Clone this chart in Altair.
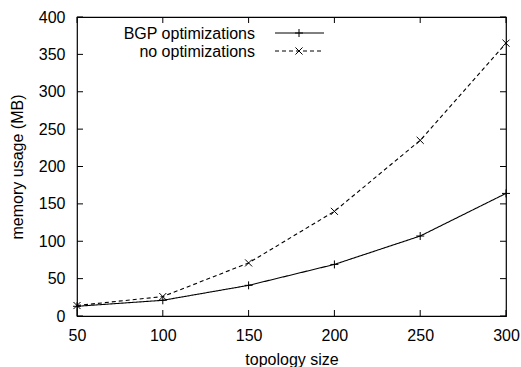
import altair as alt
import pandas as pd

# topology size vs. memory usage (MB)
sizes = [50, 100, 150, 200, 250, 300]
bgp_opt = [13, 21, 41, 69, 107, 164]
no_opt = [14, 26, 71, 140, 235, 365]
series_names = ["BGP optimizations", "no optimizations"]

x_ticks = [50, 100, 150, 200, 250, 300]
y_ticks = [0, 50, 100, 150, 200, 250, 300, 350, 400]

W, H = 429, 299
FONT = "Liberation Sans"
FS = 16
PLUS = "M-1,0L1,0M0,-1L0,1"
CROSS = "M-1,-1L1,1M-1,1L1,-1"

df = pd.DataFrame({
    "size": sizes * 2,
    "mem": bgp_opt + no_opt,
    "series": [series_names[0]] * len(sizes) + [series_names[1]] * len(sizes),
})
xt = pd.DataFrame({"v": x_ticks})
yt = pd.DataFrame({"v": y_ticks})

xs = alt.Scale(domain=[50, 300], nice=False, zero=False)
ys = alt.Scale(domain=[0, 400], nice=False)

axis_common = dict(ticks=False, domain=False, grid=False, labelFontSize=FS,
                   titleFontSize=FS, titleFontWeight="normal", labelColor="black",
                   titleColor="black", labelFont=FONT, titleFont=FONT,
                   labelOverlap=False, labelFlush=False)
x_axis = alt.Axis(values=x_ticks, labelPadding=11, titlePadding=8, **axis_common)
y_axis = alt.Axis(values=y_ticks, labelPadding=12, titlePadding=13, **axis_common)


def xq(field):
    return alt.X(field, scale=xs, axis=x_axis, title="topology size")


def yq(field):
    return alt.Y(field, scale=ys, axis=y_axis, title="memory usage (MB)")


base = alt.Chart(df)

lines = base.mark_line(color="black", strokeWidth=1.1).encode(
    x=xq("size:Q"), y=yq("mem:Q"),
    strokeDash=alt.StrokeDash("series:N", legend=None,
                              scale=alt.Scale(domain=series_names,
                                              range=[[1, 0], [4, 3]])),
)

pts_bgp = base.transform_filter(alt.datum.series == series_names[0]).mark_point(
    shape=PLUS, size=64, color="black", strokeWidth=1, filled=False, opacity=1
).encode(x=xq("size:Q"), y=yq("mem:Q"))

pts_no = base.transform_filter(alt.datum.series == series_names[1]).mark_point(
    shape=CROSS, size=50, color="black", strokeWidth=1, filled=False, opacity=1
).encode(x=xq("size:Q"), y=yq("mem:Q"))

# inward ticks on all four sides
tick_len = 6
xt_bottom = alt.Chart(xt).mark_rule(color="black", strokeWidth=1).encode(
    x=xq("v:Q"), y=alt.value(H), y2=alt.value(H - tick_len))
xt_top = alt.Chart(xt).mark_rule(color="black", strokeWidth=1).encode(
    x=xq("v:Q"), y=alt.value(0), y2=alt.value(tick_len))
yt_left = alt.Chart(yt).mark_rule(color="black", strokeWidth=1).encode(
    y=yq("v:Q"), x=alt.value(0), x2=alt.value(tick_len))
yt_right = alt.Chart(yt).mark_rule(color="black", strokeWidth=1).encode(
    y=yq("v:Q"), x=alt.value(W), x2=alt.value(W - tick_len))

# key, top-left inside the frame
key_layers = []
key_rows = [(series_names[0], 16, [1, 0], PLUS, 64),
            (series_names[1], 34, [4, 3], CROSS, 50)]
for name, ky, dash, shp, sz in key_rows:
    kd = pd.DataFrame({"label": [name]})
    kc = alt.Chart(kd)
    key_layers.append(kc.mark_text(align="right", baseline="alphabetic", fontSize=FS,
                                   font=FONT, color="black").encode(
        text="label:N", x=alt.value(178), y=alt.value(ky + 6)))
    key_layers.append(kc.mark_rule(color="black", strokeWidth=1, strokeDash=dash).encode(
        x=alt.value(198), x2=alt.value(247), y=alt.value(ky)))
    key_layers.append(kc.mark_point(shape=shp, size=sz, color="black", strokeWidth=1,
                                    filled=False, opacity=1).encode(
        x=alt.value(222), y=alt.value(ky)))

chart = alt.layer(
    lines, pts_bgp, pts_no, xt_bottom, xt_top, yt_left, yt_right, *key_layers
).properties(
    width=W, height=H,
    autosize=alt.AutoSizeParams(type="none"),
    padding={"left": 77, "top": 17, "right": 15, "bottom": 51},
    background="white",
).configure_view(stroke="black", strokeWidth=1.2)

chart.save("out.html", embed_options={"renderer": "svg", "actions": False})
